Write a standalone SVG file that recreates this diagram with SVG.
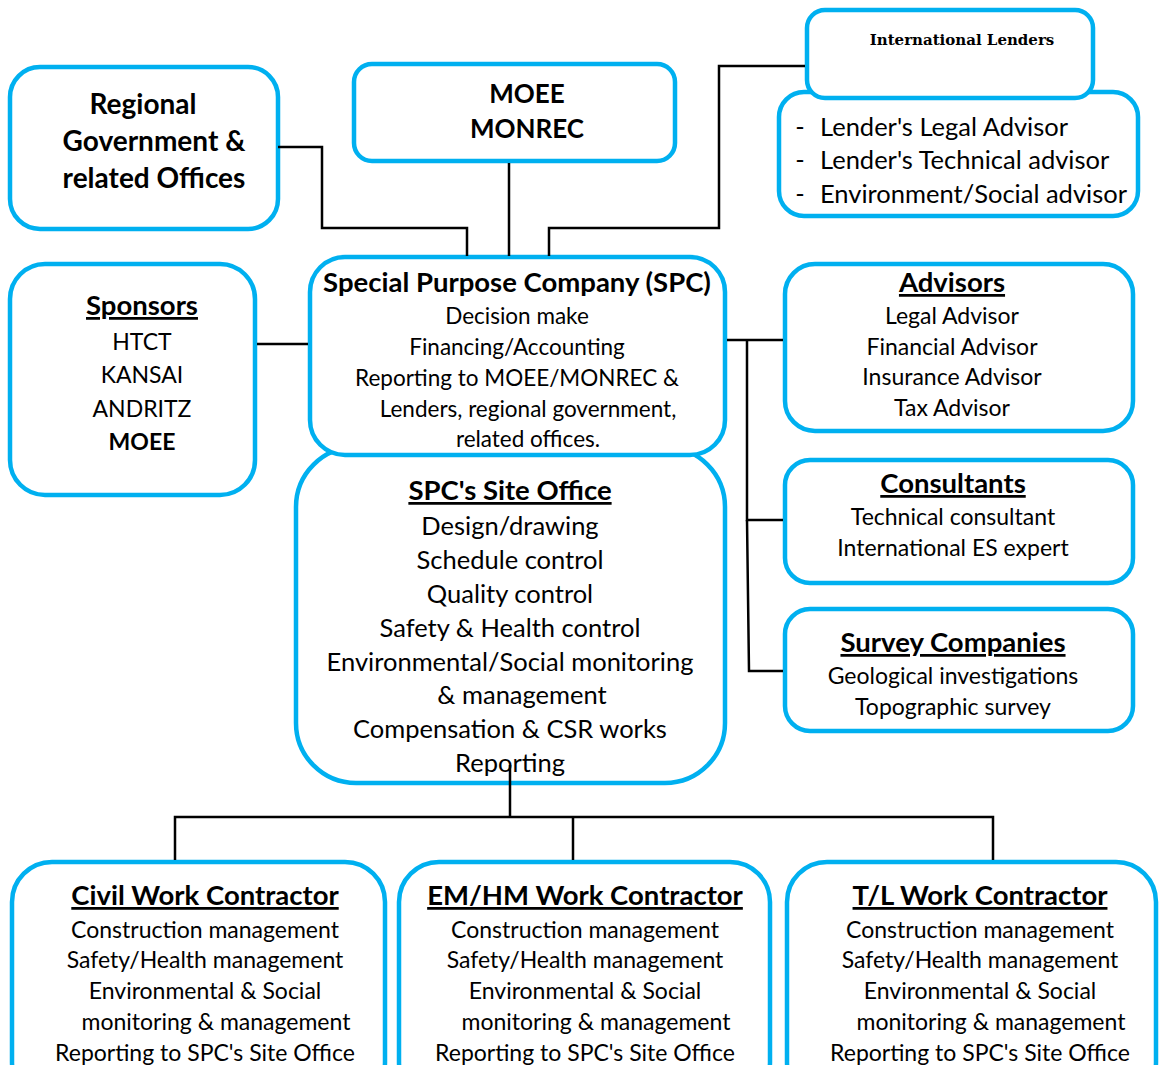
<svg xmlns="http://www.w3.org/2000/svg" width="1160" height="1065" viewBox="0 0 1160 1065">
  <style>
    .box { fill: #ffffff; stroke: #00B0F0; stroke-width: 4.5; }
    .link { fill: none; stroke: #000000; stroke-width: 2.5; }
    text { font-family: Lato, "Open Sans", sans-serif; fill: #000000; text-anchor: middle; }
    .t { font-weight: bold; font-size: 27.5px; text-decoration: underline; }
    .b { font-weight: bold; font-size: 28px; }
    .r { font-size: 23px; }
    .s { font-size: 22.5px; }
    .m { font-size: 25.5px; }
    .caps { font-size: 23px; }
    .serif { font-family: "DejaVu Serif", "Liberation Serif", serif; font-weight: bold; font-size: 15px; }
  </style>

  <rect width="1160" height="1065" fill="#ffffff"/>

  <!-- regional government -->
  <g id="regional">
    <rect class="box" x="10" y="67" width="268" height="162" rx="30"/>
    <text class="b" x="143" y="114">Regional</text>
    <text class="b" x="154" y="151">Government &amp;</text>
    <text class="b" x="154" y="188">related Offices</text>
  </g>

  <!-- ministries -->
  <g id="moee">
    <rect class="box" x="354" y="64" width="321" height="97" rx="18"/>
    <text class="b" x="527" y="103" style="font-size:26px">MOEE</text>
    <text class="b" x="527" y="138" style="font-size:26px">MONREC</text>
  </g>

  <!-- lenders' advisors (drawn under the lenders box) -->
  <g id="lender-advisors">
    <rect class="box" x="779" y="92" width="359" height="124" rx="25"/>
    <text class="m" x="800" y="136">-</text>
    <text class="m" x="800" y="169">-</text>
    <text class="m" x="800" y="203">-</text>
    <text class="m" x="820" y="136" style="text-anchor:start">Lender's Legal Advisor</text>
    <text class="m" x="820" y="169" style="text-anchor:start">Lender's Technical advisor</text>
    <text class="m" x="820" y="203" style="text-anchor:start">Environment/Social advisor</text>
  </g>

  <!-- international lenders -->
  <g id="lenders">
    <rect class="box" x="807" y="10" width="286" height="88" rx="18"/>
    <text class="serif" x="962" y="45">International Lenders</text>
  </g>

  <!-- sponsors -->
  <g id="sponsors">
    <rect class="box" x="10" y="264" width="245" height="231" rx="35"/>
    <text class="t" x="142" y="315">Sponsors</text>
    <text class="caps" x="142" y="350">HTCT</text>
    <text class="caps" x="142" y="383">KANSAI</text>
    <text class="caps" x="142" y="417">ANDRITZ</text>
    <text class="caps" x="142" y="450" style="font-weight:bold">MOEE</text>
  </g>

  <!-- site office (drawn under the SPC box) -->
  <g id="site-office">
    <rect class="box" x="296" y="447" width="429" height="336" rx="60"/>
    <text class="t" x="510" y="500">SPC's Site Office</text>
    <text class="m" x="510" y="535">Design/drawing</text>
    <text class="m" x="510" y="569">Schedule control</text>
    <text class="m" x="510" y="603">Quality control</text>
    <text class="m" x="510" y="637">Safety &amp; Health control</text>
    <text class="m" x="510" y="671">Environmental/Social monitoring</text>
    <text class="m" x="522" y="704">&amp; management</text>
    <text class="m" x="510" y="738">Compensation &amp; CSR works</text>
    <text class="m" x="510" y="772">Reporting</text>
  </g>

  <!-- special purpose company -->
  <g id="spc">
    <rect class="box" x="310" y="257" width="415" height="198" rx="35"/>
    <text x="517" y="292" style="font-weight:bold;font-size:27.5px">Special Purpose Company (SPC)</text>
    <text class="s" x="517" y="324">Decision make</text>
    <text class="s" x="517" y="355">Financing/Accounting</text>
    <text class="s" x="517" y="386">Reporting to MOEE/MONREC &amp;</text>
    <text class="s" x="528" y="417">Lenders, regional government,</text>
    <text class="s" x="528" y="447">related offices.</text>
  </g>

  <!-- advisors -->
  <g id="advisors">
    <rect class="box" x="785" y="264" width="348" height="167" rx="30"/>
    <text class="t" x="952" y="292">Advisors</text>
    <text class="r" x="952" y="324">Legal Advisor</text>
    <text class="r" x="952" y="355">Financial Advisor</text>
    <text class="r" x="952" y="385">Insurance Advisor</text>
    <text class="r" x="952" y="416">Tax Advisor</text>
  </g>

  <!-- consultants -->
  <g id="consultants">
    <rect class="box" x="785" y="460" width="348" height="123" rx="25"/>
    <text class="t" x="953" y="493">Consultants</text>
    <text class="r" x="953" y="525">Technical consultant</text>
    <text class="r" x="953" y="556">International ES expert</text>
  </g>

  <!-- survey companies -->
  <g id="survey">
    <rect class="box" x="785" y="609" width="348" height="122" rx="25"/>
    <text class="t" x="953" y="652">Survey Companies</text>
    <text class="r" x="953" y="684">Geological investigations</text>
    <text class="r" x="953" y="715">Topographic survey</text>
  </g>

  <!-- civil works contractor -->
  <g id="civil">
    <rect class="box" x="12" y="862" width="373" height="240" rx="40"/>
    <text class="t" x="205" y="905">Civil Work Contractor</text>
    <text class="r" x="205" y="938">Construction management</text>
    <text class="r" x="205" y="968">Safety/Health management</text>
    <text class="r" x="205" y="999">Environmental &amp; Social</text>
    <text class="r" x="216" y="1030">monitoring &amp; management</text>
    <text class="r" x="205" y="1061">Reporting to SPC's Site Office</text>
  </g>

  <!-- electro-/hydro-mechanical contractor -->
  <g id="emhm">
    <rect class="box" x="399" y="862" width="371" height="240" rx="40"/>
    <text class="t" x="585" y="905">EM/HM Work Contractor</text>
    <text class="r" x="585" y="938">Construction management</text>
    <text class="r" x="585" y="968">Safety/Health management</text>
    <text class="r" x="585" y="999">Environmental &amp; Social</text>
    <text class="r" x="596" y="1030">monitoring &amp; management</text>
    <text class="r" x="585" y="1061">Reporting to SPC's Site Office</text>
  </g>

  <!-- transmission line contractor -->
  <g id="tl">
    <rect class="box" x="787" y="862" width="369" height="240" rx="40"/>
    <text class="t" x="980" y="905">T/L Work Contractor</text>
    <text class="r" x="980" y="938">Construction management</text>
    <text class="r" x="980" y="968">Safety/Health management</text>
    <text class="r" x="980" y="999">Environmental &amp; Social</text>
    <text class="r" x="991" y="1030">monitoring &amp; management</text>
    <text class="r" x="980" y="1061">Reporting to SPC's Site Office</text>
  </g>

  <!-- connectors, drawn last so the site-office drop line shows over its last row -->
  <g id="connectors">
    <polyline class="link" points="278,147 322,147 322,228 467,228 467,256"/>
    <line class="link" x1="509" y1="163" x2="509" y2="256"/>
    <polyline class="link" points="805,66 719,66 719,228 549,228 549,256"/>
    <line class="link" x1="257" y1="344" x2="308" y2="344"/>
    <line class="link" x1="727" y1="340" x2="783" y2="340"/>
    <polyline class="link" points="747,340 747,520 783,520"/>
    <polyline class="link" points="747,520 749,671 783,671"/>
    <line class="link" x1="510" y1="765" x2="510" y2="817"/>
    <polyline class="link" points="175,860 175,817 993,817 993,860"/>
    <line class="link" x1="573" y1="817" x2="573" y2="860"/>
  </g>
</svg>
